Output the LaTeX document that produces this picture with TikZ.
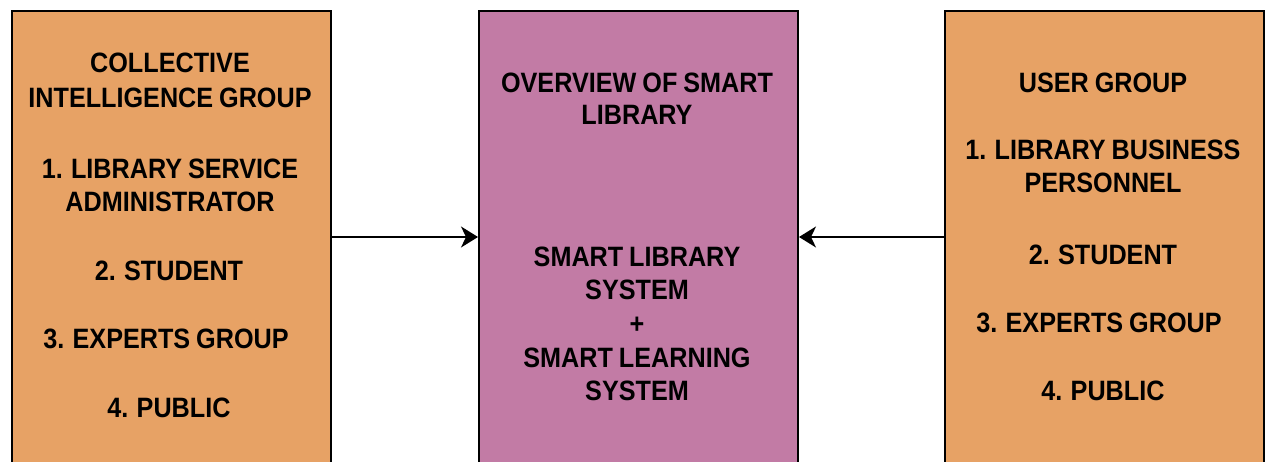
\documentclass[tikz,border=0pt]{standalone}
\usepackage{fontspec}
\setmainfont[FakeStretch=0.9, WordSpace=0.85]{Liberation Sans}
\usetikzlibrary{arrows.meta}

\definecolor{groupfill}{HTML}{E7A265}
\definecolor{corefill}{HTML}{C27BA5}

\tikzset{
  panel/.style={draw=black, line width=2pt, minimum width=319pt,
    minimum height=482pt, anchor=north west, inner sep=0pt},
  group/.style={panel, fill=groupfill},
  core/.style={panel, fill=corefill},
  txt/.style={anchor=base, inner sep=0pt, text=black,
    font=\fontsize{28}{34}\selectfont\bfseries},
  link/.style={line width=1.6pt,
    -{Stealth[length=17pt, width=21pt, inset=5pt]}}
}

\begin{document}
\begin{tikzpicture}[x=1pt, y=-1pt]
  \useasboundingbox (0,0) rectangle (1266,462);
  \clip (0,0) rectangle (1266,462);

  % the three panels, running past the lower edge
  \node[group] (ci)   at (11,10)  {};
  \node[core]  (lib)  at (478,10) {};
  \node[group] (user) at (944,10) {};

  % collective intelligence group
  \node[txt] (ci1) at (170,73)  {COLLECTIVE};
  \node[txt] (ci2) at (170,108) {INTELLIGENCE GROUP};
  \node[txt] (ci3) at (170,179) {1. LIBRARY SERVICE};
  \node[txt] (ci4) at (170,212) {ADMINISTRATOR};
  \node[txt] (ci5) at (169,281) {2. STUDENT};
  \node[txt] (ci6) at (166,348) {3. EXPERTS GROUP};
  \node[txt] (ci7) at (169,417) {4. PUBLIC};

  % smart library overview
  \node[txt] (lb1) at (637,93)  {OVERVIEW OF SMART};
  \node[txt] (lb2) at (637,125) {LIBRARY};
  \node[txt] (lb3) at (637,267) {SMART LIBRARY};
  \node[txt] (lb4) at (637,299) {SYSTEM};
  \node[txt] (lb5) at (637,333) {+};
  \node[txt] (lb6) at (637,367) {SMART LEARNING};
  \node[txt] (lb7) at (637,400) {SYSTEM};

  % user group
  \node[txt] (ug1) at (1103,93)  {USER GROUP};
  \node[txt] (ug2) at (1103,160) {1. LIBRARY BUSINESS};
  \node[txt] (ug3) at (1103,193) {PERSONNEL};
  \node[txt] (ug4) at (1103,265) {2. STUDENT};
  \node[txt] (ug5) at (1099,332) {3. EXPERTS GROUP};
  \node[txt] (ug6) at (1103,400) {4. PUBLIC};

  % connectors into the central panel
  \coordinate (row) at (0,237);
  \draw[link] (ci.east |- row) -- (lib.west |- row);
  \draw[link] (user.west |- row) -- (lib.east |- row);
\end{tikzpicture}
\end{document}
